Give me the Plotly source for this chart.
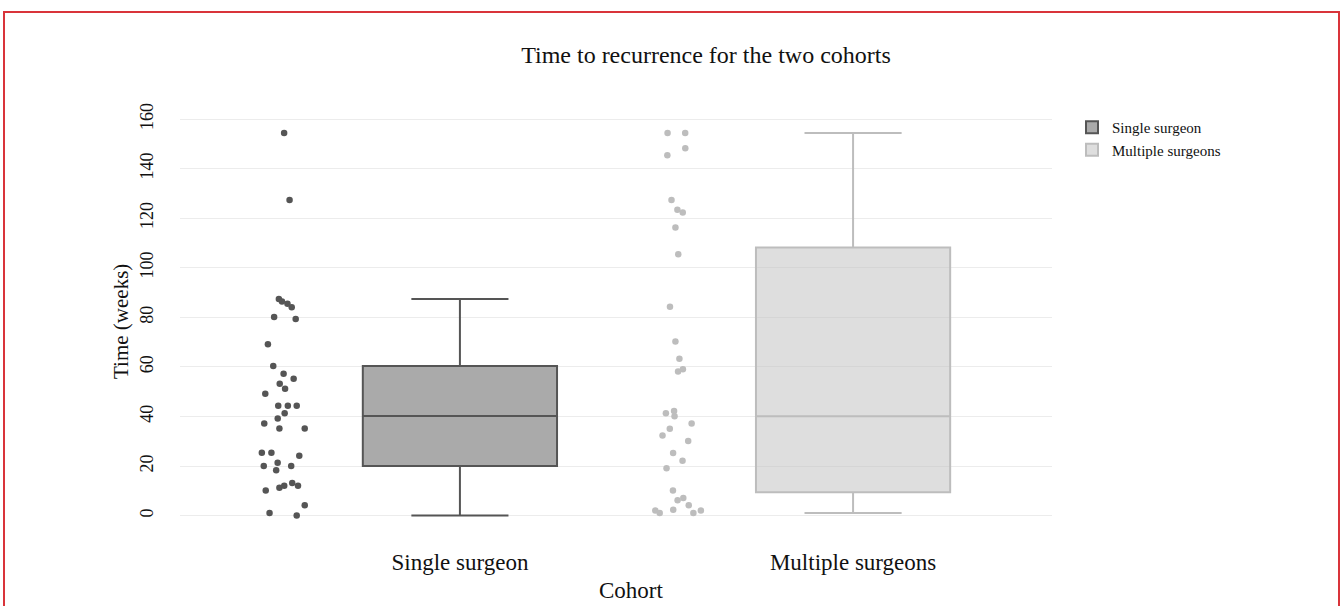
import plotly.graph_objects as go

categories = ["Single surgeon", "Multiple surgeons"]

single_y = [154.4, 127.4, 87.4, 86.4, 85.5, 84.1, 80.2, 79.3, 69.2, 60.4,
            57.3, 55.2, 53.2, 51.2, 49.2, 44.4, 44.4, 44.4, 41.3, 39.2,
            37.2, 35.2, 35.2, 25.4, 25.4, 24.2, 21.4, 20.0, 20.0, 18.3,
            10.2, 11.3, 12.1, 13.2, 12.1, 4.2, 1.1, 0.1]

multiple_y = [154.4, 154.4, 148.2, 145.4, 127.4, 123.4, 122.3, 116.3, 105.5,
              84.3, 70.3, 63.3, 58.2, 59.1, 41.3, 42.2, 40.1, 37.2, 35.1,
              32.3, 30.1, 25.3, 22.2, 19.1, 10.2, 6.2, 7.1, 4.2, 2.4, 1.1,
              2.1, 1.1, 2.1]

y_ticks = [0, 20, 40, 60, 80, 100, 120, 140, 160]

W, H = 1341, 606
ML, MR, MT, MB = 180, 289, 100, 69
PW = W - ML - MR
PH = H - MT - MB

FONT = "Liberation Serif"

fig = go.Figure()
fig.add_trace(go.Box(
    x=[categories[0]] * len(single_y), y=single_y, name=categories[0],
    boxpoints="all", jitter=0.3, pointpos=-1.8, width=0.494,
    marker=dict(color="#555555", size=6.5),
    line=dict(color="#555555", width=2),
    fillcolor="rgba(85,85,85,0.5)",
))
fig.add_trace(go.Box(
    x=[categories[1]] * len(multiple_y), y=multiple_y, name=categories[1],
    boxpoints="all", jitter=0.3, pointpos=-1.8, width=0.494,
    marker=dict(color="#bdbdbd", size=6.5),
    line=dict(color="#bdbdbd", width=2),
    fillcolor="rgba(189,189,189,0.5)",
))

def px_x(p):
    return (p - ML) / PW

def px_y(p):
    return (H - MB - p) / PH

fig.update_layout(
    width=W, height=H,
    margin=dict(l=ML, r=MR, t=MT, b=MB, autoexpand=False),
    paper_bgcolor="white", plot_bgcolor="white",
    font=dict(family=FONT, color="#111111"),
    title=dict(text="Time to recurrence for the two cohorts",
               x=706 / W, xanchor="center", xref="container",
               y=1 - 55 / H, yanchor="middle", yref="container",
               font=dict(size=24, family=FONT, color="#111111")),
    xaxis=dict(type="category", range=[-0.712, 1.506], showgrid=False,
               zeroline=False, showline=False, ticks="",
               tickfont=dict(size=23, family=FONT, color="#111111"),
               ticklabelstandoff=9),
    yaxis=dict(range=[-8.6, 167.7], tickvals=y_ticks, showgrid=True,
               gridcolor="#ececec", gridwidth=1, zeroline=False,
               showline=False, ticks="", tickangle=-90,
               tickfont=dict(size=18, family=FONT, color="#111111"),
               ticklabelstandoff=22),
    legend=dict(x=px_x(1072), y=px_y(111), xanchor="left", yanchor="top",
                font=dict(size=15, family=FONT, color="#111111"),
                bgcolor="rgba(0,0,0,0)", tracegroupgap=0),
    showlegend=True,
    annotations=[
        dict(text="Time (weeks)", x=px_x(121), y=px_y(322), xref="paper", yref="paper",
             textangle=-90, showarrow=False, xanchor="center", yanchor="middle",
             font=dict(size=21, family=FONT, color="#111111")),
        dict(text="Cohort", x=px_x(631), y=px_y(590), xref="paper", yref="paper",
             showarrow=False, xanchor="center", yanchor="middle",
             font=dict(size=23, family=FONT, color="#111111")),
    ],
    shapes=[
        dict(type="path", xref="paper", yref="paper",
             path=f"M {px_x(4)} {px_y(620)} L {px_x(4)} {px_y(12)} L {px_x(1339)} {px_y(12)} L {px_x(1339)} {px_y(620)}",
             line=dict(color="#d9343a", width=2)),
    ],
)

fig.write_html("out.html", config={"displayModeBar": False},
               post_script="document.body.style.margin='0';")
